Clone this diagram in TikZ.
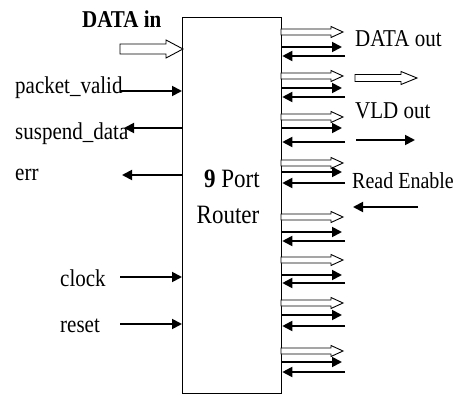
\documentclass[tikz,border=0pt]{standalone}
\usepackage{fontspec}
\setmainfont{Liberation Serif}
\usetikzlibrary{arrows.meta}

% outlined (bus) arrow: tail x, tip x, y, shaft half-width, head half-width, head length
\newcommand\hollowarr[6]{%
  \draw[busline] (#1,#3-#4) -- (#2-#6,#3-#4) -- (#2-#6,#3-#5) -- (#2,#3)
    -- (#2-#6,#3+#5) -- (#2-#6,#3+#4) -- (#1,#3+#4) -- cycle;}
% text set slightly tall
\newcommand\tall[1]{\scalebox{1}[1.15]{#1}}

\begin{document}
\begin{tikzpicture}[x=1pt,y=-1pt,
  lbl/.style={inner sep=0pt,anchor=base west,font=\fontsize{21}{25}\selectfont},
  sig/.style={line width=1.8pt,-{Triangle[length=10pt,width=10pt]}},
  busline/.style={line width=0.9pt,fill=white,line join=miter},
  block/.style={draw,line width=1.3pt,minimum width=99pt,minimum height=376pt,inner sep=0pt,anchor=north west}]
\useasboundingbox (0,0) rectangle (456,396);

% router block
\node[block] (router) at (182,17) {};
\node[lbl,anchor=base,font=\fontsize{23}{27}\selectfont] (title1) at (232,188) {\tall{\textbf{9} Port}};
\node[lbl,anchor=base,font=\fontsize{23}{27}\selectfont] (title2) at (228,223) {\tall{Router}};

% left-hand ports
\node[lbl] (datain) at (82,28) {\tall{\textbf{DATA in}}};
\hollowarr{120}{183}{49}{5}{9}{17}

\node[lbl] (pvalid) at (15,94) {\tall{packet\_valid}};
\coordinate (pv) at (120,91);
\draw[sig] (pv) -- (pv -| router.west);

\node[lbl] (susp) at (15,140) {\tall{suspend\_data}};
\coordinate (sd) at (124,128);
\draw[sig] (sd -| router.west) -- (sd);

\node[lbl] (errl) at (15,180) {\tall{err}};
\coordinate (er) at (122,175);
\draw[sig] (er -| router.west) -- (er);

\node[lbl] (clk) at (60,287) {\tall{clock}};
\coordinate (ck) at (120,277);
\draw[sig] (ck) -- (ck -| router.west);

\node[lbl] (rst) at (60,332) {\tall{reset}};
\coordinate (rs) at (120,324);
\draw[sig] (rs) -- (rs -| router.west);

% right-hand output ports: bus, valid, read enable
\foreach \a/\b/\c [count=\i] in {32/47/56, 76/88/97, 117/128/142, 163/172/183,
                                 217/232/241, 260/275/283, 303/315/326, 351/362/372}{
  \hollowarr{281}{343}{\a}{3}{5.5}{12}
  \coordinate (vo\i) at (342,\b);
  \draw[sig] (vo\i -| router.east) -- (vo\i);
  \coordinate (re\i) at (345,\c);
  \draw[sig] (re\i) -- (re\i -| router.east);
}

% key
\node[lbl] (kdata) at (355,47) {\tall{DATA out}};
\hollowarr{355}{417}{78}{3.5}{6.5}{16}
\node[lbl] (kvld) at (355,119) {\tall{VLD out}};
\coordinate (kv1) at (356,140);
\coordinate (kv2) at (415,140);
\draw[sig] (kv1) -- (kv2);
\node[lbl,font=\fontsize{20}{24}\selectfont] (kre) at (352,189) {\tall{Read Enable}};
\coordinate (kr1) at (418,207);
\coordinate (kr2) at (353,207);
\draw[sig] (kr1) -- (kr2);
\end{tikzpicture}
\end{document}
